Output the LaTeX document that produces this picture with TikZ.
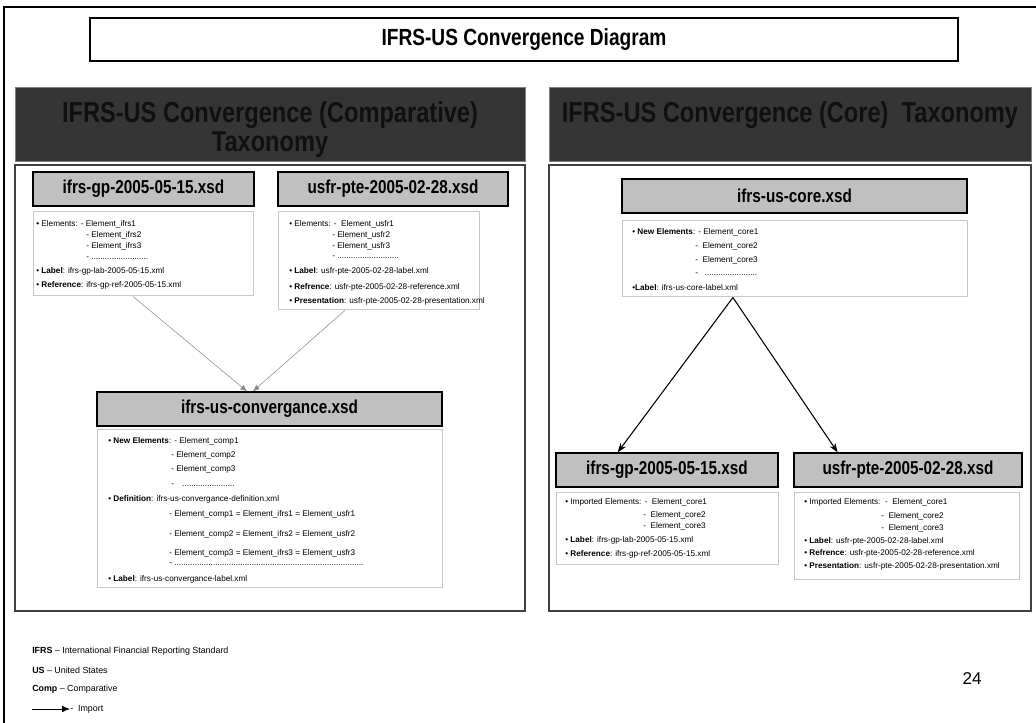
\documentclass[tikz,border=0pt]{standalone}
\usepackage{fontspec}
\setmainfont{Liberation Sans}
\newfontfamily\narrowfont[FakeStretch=0.82]{Liberation Sans}
\usetikzlibrary{arrows.meta,calc}

\definecolor{boxgray}{HTML}{C0C0C0}
\definecolor{headdark}{HTML}{353535}
\definecolor{headtext}{HTML}{101010}
\definecolor{thinline}{HTML}{C8C8C8}
\definecolor{linkgray}{HTML}{8A8A8A}

% rectangle node given by its corners, in pixel units
\newcommand\panelbox[7][]{\node[#1, name=#2, minimum width={(#5-#3)*0.75pt}, minimum height={(#6-#4)*0.75pt}, inner sep=0pt] at ({(#3+#5)/2},{(#4+#6)/2}) {#7};}
% one line of small text, left aligned
\newcommand\txtline[4]{\node[smalltxt, name=#1] at (#2,#3) {#4};}

\tikzset{
  smalltxt/.style={anchor=west, inner sep=0pt, font=\fontsize{6.15}{7}\selectfont},
  legendtxt/.style={anchor=west, inner sep=0pt, font=\fontsize{6.65}{8}\selectfont},
  filebox/.style={draw=black, fill=boxgray, line width=0.9pt, font=\narrowfont\bfseries\fontsize{14}{16}\selectfont},
  contentbox/.style={draw=thinline, fill=white, line width=0.75pt},
  headbox/.style={draw=gray, fill=headdark, line width=0.6pt},
  headtxt/.style={anchor=base, inner sep=0pt, text=headtext, font=\narrowfont\bfseries\fontsize{21.6}{23}\selectfont},
  panelbody/.style={draw=black!75, fill=white, line width=0.8pt},
  titlebox/.style={draw=black, fill=white, line width=0.8pt, font=\narrowfont\bfseries\fontsize{17.5}{19}\selectfont},
  thinlink/.style={draw=linkgray, line width=0.4pt, -{Latex[length=5pt,width=4pt]}},
  importlink/.style={draw=black, line width=0.8pt, -{Stealth[length=7pt,width=5pt]}},
}

\begin{document}
\begin{tikzpicture}[x=0.75pt,y=-0.75pt]
\useasboundingbox (0,0) rectangle (1036,723);

% page frame
\draw[line width=1.9pt] (4,723) -- (4,7) -- (1036,7);

% title
\panelbox[titlebox]{title}{90}{18}{958}{61}{IFRS-US Convergence Diagram}

% ---------------- comparative taxonomy ----------------
\panelbox[headbox]{lhead}{15}{87}{525}{161}{}
\node[headtxt, name=lheadA] at (270,123) {IFRS-US Convergence (Comparative)};
\node[headtxt, name=lheadB] at (270,152) {Taxonomy};
\panelbox[panelbody]{lbody}{15}{165}{525}{611}{}

\panelbox[filebox]{gpfile}{33}{172}{254}{206}{ifrs-gp-2005-05-15.xsd}
\panelbox[filebox]{ptefile}{278}{172}{508}{206}{usfr-pte-2005-02-28.xsd}

\panelbox[contentbox]{gpinfo}{33}{212}{253}{296}{}
\txtline{ga}{36}{224}{• Elements: - Element\_ifrs1}
\txtline{gb}{86}{235}{- Element\_ifrs2}
\txtline{gc}{86}{246}{- Element\_ifrs3}
\txtline{gd}{86}{258}{- .........................}
\txtline{ge}{36}{271}{• \textbf{Label}: ifrs-gp-lab-2005-05-15.xml}
\txtline{gf}{36}{285}{• \textbf{Reference}: ifrs-gp-ref-2005-05-15.xml}

\panelbox[contentbox]{pteinfo}{278}{212}{479}{310}{}
\txtline{pa}{289}{224}{• Elements: -\ \ Element\_usfr1}
\txtline{pb}{332}{235}{- Element\_usfr2}
\txtline{pc}{332}{246}{- Element\_usfr3}
\txtline{pd}{332}{257}{- ...........................}
\txtline{pe}{289}{271}{• \textbf{Label}: usfr-pte-2005-02-28-label.xml}
\txtline{pf}{289}{287}{• \textbf{Refrence}: usfr-pte-2005-02-28-reference.xml}
\txtline{pg}{289}{301}{• \textbf{Presentation}: usfr-pte-2005-02-28-presentation.xml}

\panelbox[filebox]{convfile}{97}{392}{442}{426}{ifrs-us-convergance.xsd}
\panelbox[contentbox]{convinfo}{97}{430}{442}{587}{}
\txtline{ca}{108}{441}{• \textbf{New Elements}: - Element\_comp1}
\txtline{cb}{171}{455}{- Element\_comp2}
\txtline{cc}{171}{469}{- Element\_comp3}
\txtline{cd}{171}{485}{-\quad .......................}
\txtline{ce}{108}{499}{• \textbf{Definition}: ifrs-us-convergance-definition.xml}
\txtline{cf}{169}{514}{- Element\_comp1 = Element\_ifrs1 = Element\_usfr1}
\txtline{cg}{169}{534}{- Element\_comp2 = Element\_ifrs2 = Element\_usfr2}
\txtline{ch}{169}{553}{- Element\_comp3 = Element\_ifrs3 = Element\_usfr3}
\txtline{ci}{169}{564}{- ...................................................................................}
\txtline{cj}{108}{579}{• \textbf{Label}: ifrs-us-convergance-label.xml}

\draw[thinlink] ($(gpinfo.south west)!0.455!(gpinfo.south east)$) -- ($(convfile.north west)!0.435!(convfile.north east)$);
\draw[thinlink] ($(pteinfo.south west)!0.333!(pteinfo.south east)$) -- ($(convfile.north west)!0.452!(convfile.north east)$);

% ---------------- core taxonomy ----------------
\panelbox[headbox]{rhead}{549}{87}{1031}{161}{}
\node[headtxt, name=rheadA] at (790,123) {IFRS-US Convergence (Core)\ \ Taxonomy};
\panelbox[panelbody]{rbody}{549}{165}{1031}{611}{}

\panelbox[filebox]{corefile}{622}{179}{967}{213}{ifrs-us-core.xsd}
\panelbox[contentbox]{coreinfo}{622}{221}{967}{297}{}
\txtline{ra}{632}{232}{• \textbf{New Elements}: - Element\_core1}
\txtline{rb}{695}{246}{-\ \ Element\_core2}
\txtline{rc}{695}{260}{-\ \ Element\_core3}
\txtline{rd}{695}{274}{-\ \ \ .......................}
\txtline{re}{632}{288}{•\textbf{Label}: ifrs-us-core-label.xml}

\panelbox[filebox]{gpfileb}{556}{453}{778}{487}{ifrs-gp-2005-05-15.xsd}
\panelbox[filebox]{ptefileb}{794}{453}{1022}{487}{usfr-pte-2005-02-28.xsd}

\panelbox[contentbox]{gpinfob}{556}{493}{778}{565}{}
\txtline{ia}{565}{502}{• Imported Elements: -\ \ Element\_core1}
\txtline{ib}{643}{515}{-\ \ Element\_core2}
\txtline{ic}{643}{526}{-\ \ Element\_core3}
\txtline{id}{565}{540}{• \textbf{Label}: ifrs-gp-lab-2005-05-15.xml}
\txtline{ie}{565}{554}{• \textbf{Reference}: ifrs-gp-ref-2005-05-15.xml}

\panelbox[contentbox]{pteinfob}{794}{493}{1019}{580}{}
\txtline{ua}{804}{502}{• Imported Elements:\ \ -\ \ Element\_core1}
\txtline{ub}{881}{516}{-\ \ Element\_core2}
\txtline{uc}{881}{528}{-\ \ Element\_core3}
\txtline{ud}{804}{541}{• \textbf{Label}: usfr-pte-2005-02-28-label.xml}
\txtline{ue}{804}{553}{• \textbf{Refrence}: usfr-pte-2005-02-28-reference.xml}
\txtline{uf}{804}{566}{• \textbf{Presentation}: usfr-pte-2005-02-28-presentation.xml}

\draw[importlink] ($(coreinfo.south west)!0.322!(coreinfo.south east)$) -- ($(gpfileb.north west)!0.279!(gpfileb.north east)$);
\draw[importlink] ($(coreinfo.south west)!0.322!(coreinfo.south east)$) -- ($(ptefileb.north west)!0.193!(ptefileb.north east)$);

% ---------------- legend ----------------
\node[legendtxt, name=lg1] at (32,651) {\textbf{IFRS} – International Financial Reporting Standard};
\node[legendtxt, name=lg2] at (32,670) {\textbf{US} – United States};
\node[legendtxt, name=lg3] at (32,689) {\textbf{Comp} – Comparative};
\node[legendtxt, name=lg4] at (70,709) {-\ \ Import};
\coordinate (lgstart) at (32,709);
\draw[draw=black, line width=0.6pt, -{Latex[length=6pt,width=5pt]}] (lgstart) -- (lg4.west);

\node[inner sep=0pt, font=\fontsize{12.8}{14}\selectfont, name=pagenum] at (972,679) {24};
\end{tikzpicture}
\end{document}
